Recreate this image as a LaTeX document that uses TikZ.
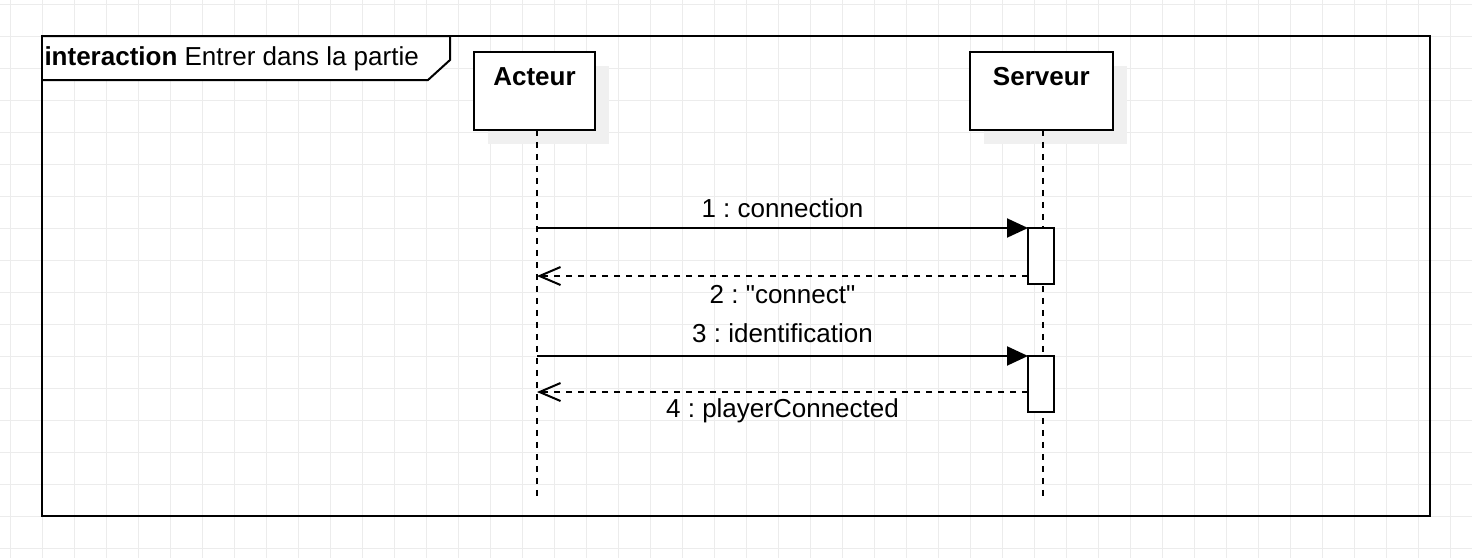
\documentclass[tikz,border=0pt]{standalone}
\usepackage{fontspec}
\setmainfont{Liberation Sans}[Ligatures=TeXOff]
\usetikzlibrary{positioning, arrows.meta, shadows}
\frenchspacing

\begin{document}
\begin{tikzpicture}[x=0.02cm, y=-0.02cm, line width=0.04cm,
    every node/.style={font=\fontsize{14.8pt}{18pt}\selectfont, inner sep=0pt, outer sep=0pt},
    head/.style={draw, fill=white, minimum height=1.56cm, drop shadow={opacity=1, fill=black!6, shadow xshift=0.28cm, shadow yshift=-0.28cm}},
    activation/.style={draw, fill=white, minimum width=0.52cm, minimum height=1.12cm},
    lifeline/.style={dash pattern=on 0.12cm off 0.12cm},
    call/.style={-{Triangle[length=0.42cm, width=0.38cm]}},
    reply/.style={dash pattern=on 0.12cm off 0.12cm, -{Straight Barb[length=0.42cm, width=0.36cm]}}]
    \useasboundingbox[fill=white] (0,0) rectangle (1472,558);

    % grid
    \foreach \x in {0,...,45} \draw[gray!15, line width=0.02cm] (10+32*\x,0) -- (10+32*\x,558);
    \foreach \y in {0,...,17} \draw[gray!15, line width=0.02cm] (0,4+32*\y) -- (1472,4+32*\y);

    % frame
    \draw (42,36) rectangle (1430,516);
    \draw[fill=white] (42,36) -- (450,36) -- (450,60) -- (428,80) -- (42,80) -- cycle;
    \node (title) [anchor=base west] at (44.5,65.7) {\textbf{interaction} Entrer dans la partie};

    % lifelines
    \node (acteur) [head, minimum width=2.42cm, label={[anchor=base, yshift=-0.66cm]north:\textbf{Acteur}}] at (534.5,91) {};
    \node (serveur) [head, minimum width=2.86cm, right=7.5cm of acteur, label={[anchor=base, yshift=-0.66cm]north:\textbf{Serveur}}] {};
    \coordinate (acteurend) at (537,498);
    \coordinate (serveurend) at (1043,498);
    \draw[lifeline] (acteurend |- acteur.south) -- (acteurend);
    \draw[lifeline] (serveurend |- serveur.south) -- (serveurend);

    \node (act1) [activation] at (1041,256) {};
    \node (act2) [activation, below=1.44cm of act1] {};

    % messages
    \draw[call] (acteurend |- act1.north west) -- node[anchor=base, yshift=0.22cm]{1 : connection} (act1.north west);
    \coordinate (ret1) at (1028,276);
    \draw[reply] (ret1) -- node[anchor=base, yshift=-0.56cm]{2 : "connect"} (ret1 -| acteurend);
    \draw[call] (acteurend |- act2.north west) -- node[anchor=base, yshift=0.26cm]{3 : identification} (act2.north west);
    \coordinate (ret2) at (1028,392);
    \draw[reply] (ret2) -- node[anchor=base, yshift=-0.5cm]{4 : playerConnected} (ret2 -| acteurend);
\end{tikzpicture}
\end{document}
